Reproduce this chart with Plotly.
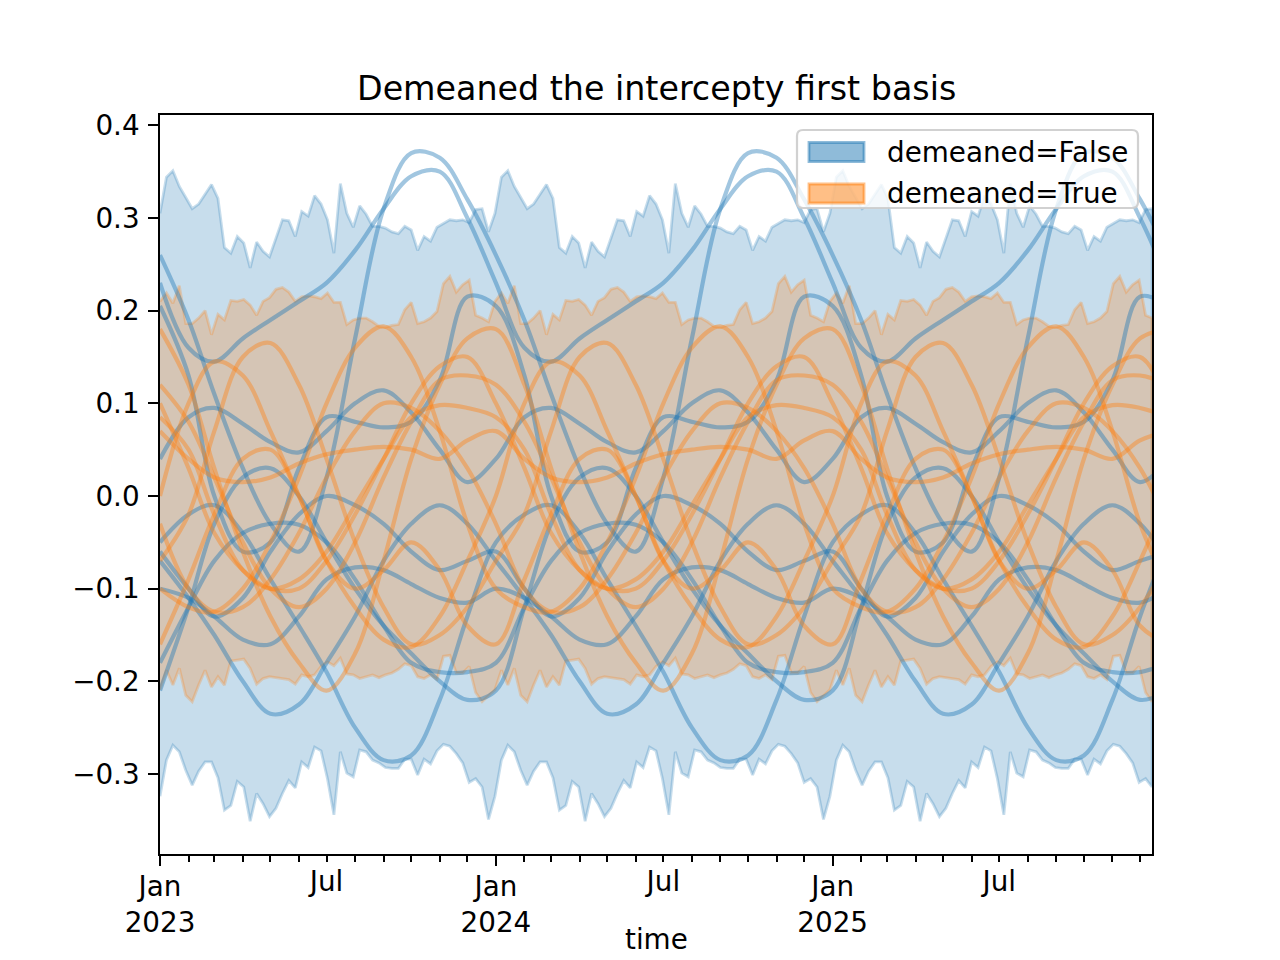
import pandas as pd
import plotly.graph_objects as go

# ---------------- data ----------------
title_text = "Demeaned the intercepty first basis"
legend_names = ["demeaned=False", "demeaned=True"]
x_title = "time"

y_tick_vals = [-0.3, -0.2, -0.1, 0.0, 0.1, 0.2, 0.3, 0.4]
y_tick_text = ["\u22120.3", "\u22120.2", "\u22120.1", "0.0", "0.1", "0.2", "0.3", "0.4"]
jan_ticks = ["2023-01-01", "2024-01-01", "2025-01-01"]
jan_labels = ["Jan<br>2023", "Jan<br>2024", "Jan<br>2025"]
jul_ticks = ["2023-07-01", "2024-07-01", "2025-07-01"]
jul_labels = ["Jul", "Jul", "Jul"]

# weekly HDI band edges, one 52-week cycle (repeats every year)
blue_upper = [0.305, 0.344, 0.351, 0.334, 0.322, 0.310, 0.315, 0.325, 0.336, 0.321,
              0.268, 0.262, 0.280, 0.273, 0.246, 0.274, 0.264, 0.258, 0.278, 0.298,
              0.297, 0.280, 0.307, 0.302, 0.324, 0.315, 0.298, 0.262, 0.337, 0.305,
              0.290, 0.313, 0.304, 0.291, 0.291, 0.289, 0.285, 0.283, 0.291, 0.287,
              0.265, 0.280, 0.275, 0.290, 0.294, 0.298, 0.297, 0.298, 0.295, 0.309,
              0.310, 0.285]
blue_lower = [-0.324, -0.285, -0.269, -0.276, -0.296, -0.312, -0.297, -0.287, -0.287, -0.304,
              -0.339, -0.334, -0.308, -0.314, -0.351, -0.321, -0.332, -0.346, -0.337, -0.321,
              -0.307, -0.315, -0.287, -0.293, -0.271, -0.275, -0.305, -0.344, -0.276, -0.299,
              -0.303, -0.274, -0.276, -0.285, -0.288, -0.293, -0.294, -0.294, -0.284, -0.284,
              -0.301, -0.284, -0.289, -0.275, -0.268, -0.270, -0.278, -0.288, -0.309, -0.305,
              -0.314, -0.349]
orange_upper = [0.210, 0.219, 0.208, 0.227, 0.186, 0.186, 0.192, 0.200, 0.174, 0.196,
                0.190, 0.211, 0.210, 0.212, 0.206, 0.195, 0.210, 0.214, 0.223, 0.225,
                0.220, 0.210, 0.215, 0.216, 0.215, 0.213, 0.219, 0.209, 0.209, 0.185,
                0.190, 0.192, 0.192, 0.188, 0.183, 0.182, 0.184, 0.185, 0.201, 0.209,
                0.186, 0.188, 0.192, 0.199, 0.229, 0.237, 0.220, 0.228, 0.233, 0.195,
                0.192, 0.188]
orange_lower = [-0.209, -0.188, -0.204, -0.186, -0.215, -0.222, -0.204, -0.188, -0.206, -0.195,
                -0.204, -0.178, -0.177, -0.176, -0.186, -0.203, -0.197, -0.195, -0.196, -0.197,
                -0.198, -0.203, -0.193, -0.195, -0.193, -0.184, -0.179, -0.183, -0.175, -0.192,
                -0.193, -0.197, -0.195, -0.193, -0.196, -0.193, -0.191, -0.187, -0.181, -0.183,
                -0.195, -0.197, -0.193, -0.198, -0.173, -0.172, -0.191, -0.191, -0.184, -0.212,
                -0.222, -0.215]

# sample curves, value on the 1st of each month (Jan..Dec), yearly cycle
blue_1 = [0.26, 0.19, 0.11, 0.03, -0.03, -0.06, 0.02, 0.17, 0.31, 0.37, 0.365, 0.32]
blue_2 = [0.23, 0.16, 0.145, 0.17, 0.19, 0.21, 0.23, 0.265, 0.31, 0.345, 0.35, 0.30]
blue_3 = [-0.05, -0.02, -0.01, -0.04, -0.09, -0.14, -0.19, -0.25, -0.285, -0.28, -0.22, -0.13]
blue_4 = [-0.07, -0.11, -0.15, -0.20, -0.235, -0.225, -0.18, -0.13, -0.07, -0.03, -0.01, -0.03]
blue_5 = [0.205, 0.13, 0.0, -0.06, -0.05, 0.03, 0.085, 0.08, 0.074, 0.08, 0.125, 0.215]
blue_6 = [0.04, 0.085, 0.095, 0.078, 0.058, 0.047, 0.07, 0.10, 0.114, 0.09, 0.05, 0.015]
blue_7 = [-0.18, -0.12, -0.07, -0.04, -0.03, -0.031, -0.05, -0.09, -0.14, -0.18, -0.19, -0.19]
blue_8 = [-0.10, -0.11, -0.13, -0.155, -0.16, -0.13, -0.09, -0.077, -0.08, -0.095, -0.11, -0.115]
blue_9 = [-0.21, -0.12, -0.03, 0.02, 0.03, 0.0, -0.05, -0.10, -0.14, -0.17, -0.20, -0.22]
blue_10 = [-0.06, -0.10, -0.13, -0.11, -0.06, -0.02, 0.0, -0.01, -0.03, -0.06, -0.08, -0.07]

orange_1 = [0.18, 0.12, 0.03, -0.06, -0.13, -0.18, -0.21, -0.17, -0.07, 0.04, 0.12, 0.17]
orange_2 = [-0.07, -0.02, 0.07, 0.15, 0.165, 0.12, 0.04, -0.05, -0.12, -0.16, -0.15, -0.12]
orange_3 = [-0.10, -0.12, -0.125, -0.10, -0.05, 0.02, 0.10, 0.16, 0.183, 0.15, 0.07, -0.03]
orange_4 = [0.10, 0.03, -0.04, -0.08, -0.10, -0.10, -0.07, -0.02, 0.04, 0.10, 0.14, 0.15]
orange_5 = [0.07, 0.04, 0.02, 0.015, 0.02, 0.035, 0.045, 0.05, 0.053, 0.05, 0.04, 0.06]
orange_6 = [0.085, 0.05, -0.02, -0.08, -0.10, -0.09, -0.06, -0.01, 0.04, 0.085, 0.098, 0.095]
orange_7 = [0.0, 0.10, 0.145, 0.13, 0.07, 0.0, -0.07, -0.12, -0.155, -0.163, -0.13, -0.07]
orange_8 = [0.12, 0.08, 0.02, -0.05, -0.10, -0.12, -0.10, -0.05, 0.02, 0.08, 0.125, 0.13]
orange_9 = [-0.03, -0.10, -0.125, -0.12, -0.09, -0.04, 0.02, 0.07, 0.10, 0.095, 0.07, 0.03]
orange_10 = [-0.16, -0.09, -0.02, 0.04, 0.05, 0.0, -0.07, -0.10, -0.08, -0.05, -0.08, -0.14]

blue_curves = [blue_1, blue_2, blue_3, blue_4, blue_5, blue_6, blue_7, blue_8, blue_9, blue_10]
orange_curves = [orange_1, orange_2, orange_3, orange_4, orange_5, orange_6, orange_7,
                 orange_8, orange_9, orange_10]

# ---------------- geometry / style ----------------
BLUE = (31, 119, 180)
ORANGE = (255, 127, 14)
def rgba(c, a):
    return "rgba(%d,%d,%d,%s)" % (c[0], c[1], c[2], a)

FONT = "DejaVu Sans"
FS = 27.8
FIG_W, FIG_H = 1280, 960
PL, PR, PT, PB = 160, 1152, 115, 854
def px(x):
    return (x - PL) / (PR - PL)
def py(y):
    return (PB - y) / (PB - PT)

weeks = pd.date_range("2023-01-01", periods=155, freq="7D")
months = pd.date_range("2023-01-01", periods=37, freq="MS")
def tile(pattern, n):
    return [pattern[i % len(pattern)] for i in range(n)]

fig = go.Figure()

def add_band(upper, lower, color):
    up = tile(upper, len(weeks))
    lo = tile(lower, len(weeks))
    xs = list(weeks) + list(weeks[::-1])
    ys = up + lo[::-1]
    fig.add_trace(go.Scatter(x=xs, y=ys, mode="lines", fill="toself",
                             fillcolor=rgba(color, 0.25),
                             line=dict(color=rgba(color, 0.25), width=2.8),
                             hoverinfo="skip", showlegend=False))

add_band(blue_upper, blue_lower, BLUE)
add_band(orange_upper, orange_lower, ORANGE)

for c in blue_curves:
    fig.add_trace(go.Scatter(x=months, y=tile(c, len(months)), mode="lines",
                             line=dict(color=rgba(BLUE, 0.42), width=4.2, shape="spline"),
                             hoverinfo="skip", showlegend=False))
for c in orange_curves:
    fig.add_trace(go.Scatter(x=months, y=tile(c, len(months)), mode="lines",
                             line=dict(color=rgba(ORANGE, 0.4), width=4.2, shape="spline"),
                             hoverinfo="skip", showlegend=False))

# helper trace for the second (Jul label) axis
fig.add_trace(go.Scatter(x=[], y=[], xaxis="x2", yaxis="y", showlegend=False,
                         hoverinfo="skip"))

xrange = ["2023-01-01", "2025-12-14"]
minor_months = [d.strftime("%Y-%m-%d") for d in pd.date_range("2023-02-01", "2025-12-01", freq="MS")]

fig.update_layout(
    width=FIG_W, height=FIG_H,
    margin=dict(l=PL, r=FIG_W - PR, t=PT, b=FIG_H - PB, autoexpand=False),
    paper_bgcolor="white", plot_bgcolor="white",
    font=dict(family=FONT, size=FS, color="black"),
    showlegend=False,
    xaxis=dict(type="date", range=xrange, showgrid=False, zeroline=False, automargin=False,
               showline=True, linecolor="black", linewidth=2.2, mirror=True,
               ticks="outside", ticklen=9.7, tickwidth=2.2, tickcolor="black",
               tickmode="array", tickvals=jan_ticks, ticktext=jan_labels,
               tickfont=dict(family=FONT, size=FS, color="black"),
               ticklabelstandoff=-3,
               minor=dict(tickmode="array", tickvals=minor_months, ticks="outside",
                          ticklen=5.5, tickwidth=1.7, tickcolor="black", showgrid=False)),
    xaxis2=dict(type="date", range=xrange, overlaying="x", anchor="y", side="bottom",
                showgrid=False, zeroline=False, showline=False, automargin=False,
                ticks="outside", ticklen=5.5, tickwidth=1.7, tickcolor="black",
                tickmode="array", tickvals=jul_ticks, ticktext=jul_labels,
                tickfont=dict(family=FONT, size=FS, color="black"),
                ticklabelstandoff=-3),
    yaxis=dict(range=[-0.3863, 0.4111], showgrid=False, zeroline=False, automargin=False,
               showline=True, linecolor="black", linewidth=2.2, mirror=True,
               ticks="outside", ticklen=9.7, tickwidth=2.2, tickcolor="black",
               tickmode="array", tickvals=y_tick_vals, ticktext=y_tick_text,
               tickfont=dict(family=FONT, size=FS, color="black"),
               ticklabelstandoff=3),
)

# title and axis title
fig.add_annotation(text=title_text, xref="paper", yref="paper", x=0.5, y=py(88),
                   xanchor="center", yanchor="middle", showarrow=False,
                   font=dict(family=FONT, size=33.3, color="black"))
fig.add_annotation(text=x_title, xref="paper", yref="paper", x=0.5, y=py(958),
                   xanchor="center", yanchor="bottom", showarrow=False,
                   font=dict(family=FONT, size=FS, color="black"))

# legend (drawn as a framed box)
x0, x1, y0, y1, r = 797, 1138, 130, 208, 6
path = ("M {a},{b} L {c},{b} Q {d},{b} {d},{e} L {d},{f} Q {d},{g} {c},{g} "
        "L {a},{g} Q {h},{g} {h},{f} L {h},{e} Q {h},{b} {a},{b} Z").format(
    a=px(x0 + r), b=py(y0), c=px(x1 - r), d=px(x1), e=py(y0 + r), f=py(y1 - r),
    g=py(y1), h=px(x0))
fig.add_shape(type="path", path=path, xref="paper", yref="paper",
              fillcolor="rgba(255,255,255,0.8)", line=dict(color="rgba(204,204,204,0.9)", width=2.2))
for i, (name, col) in enumerate(zip(legend_names, [BLUE, ORANGE])):
    cy = 152 + i * 41.5
    fig.add_shape(type="rect", xref="paper", yref="paper",
                  x0=px(809), x1=px(864), y0=py(cy - 9.5), y1=py(cy + 9.5),
                  fillcolor=rgba(col, 0.5), line=dict(color=rgba(col, 0.5), width=2.8))
    fig.add_annotation(text=name, xref="paper", yref="paper", x=px(885), y=py(cy),
                       xanchor="left", yanchor="middle", showarrow=False,
                       font=dict(family=FONT, size=FS, color="black"))

fig.write_html("out.html", config={"displayModeBar": False},
               post_script="document.body.style.margin='0';document.body.style.overflow='hidden';")
